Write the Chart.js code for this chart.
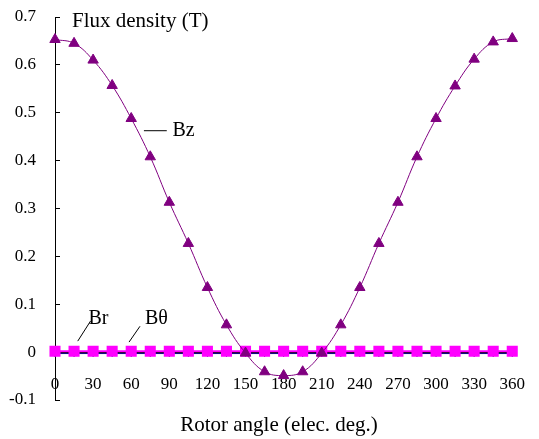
<!DOCTYPE html>
<html lang="en">
  <head>
    <meta charset="UTF-8" />
    <title>Flux density vs rotor angle</title>
    <style>
      body {
        margin: 0;
        background: #fff;
      }
      #wrap {
        width: 539px;
        height: 439px;
      }
    </style>
  </head>
  <body>
    <div id="wrap"><canvas id="myChart"></canvas></div>

    <script src="https://cdn.jsdelivr.net/npm/chart.js@4.4.1/dist/chart.umd.min.js"></script>
    <script>
      // rotor angle, elec. deg.
      const angles = [0, 15, 30, 45, 60, 75, 90, 105, 120, 135, 150, 165, 180,
        195, 210, 225, 240, 255, 270, 285, 300, 315, 330, 345, 360];
      // flux density, T
      const bz = [0.653, 0.645, 0.61, 0.557, 0.488, 0.408, 0.313, 0.227, 0.135, 0.057, -0.002, -0.041, -0.049,
        -0.041, -0.002, 0.057, 0.135, 0.227, 0.313, 0.408, 0.488, 0.556, 0.612, 0.648, 0.655];
      const br = [-0.003, -0.003, -0.003, -0.003, -0.003, -0.003, -0.003, -0.003, -0.003, -0.003, -0.003, -0.003, -0.003,
        -0.003, -0.003, -0.003, -0.003, -0.003, -0.003, -0.003, -0.003, -0.003, -0.003, -0.003, -0.003];
      const btheta = [0.002, 0.002, 0.002, 0.002, 0.002, 0.002, 0.002, 0.002, 0.002, 0.002, 0.002, 0.002, 0.002,
        0.002, 0.002, 0.002, 0.002, 0.002, 0.002, 0.002, 0.002, 0.002, 0.002, 0.002, 0.002];
      const xTicks = [0, 30, 60, 90, 120, 150, 180, 210, 240, 270, 300, 330, 360];
      const yTicks = [-0.1, 0, 0.1, 0.2, 0.3, 0.4, 0.5, 0.6, 0.7];

      const font = "'Liberation Serif', 'Liberation Sans', sans-serif";
      const pts = vals => vals.map((v, i) => ({ x: angles[i], y: v }));

      // axis titles and series names with leader lines
      const textPlugin = {
        id: "texts",
        afterDatasetsDraw(chart) {
          const { ctx, chartArea, scales } = chart;
          const x = scales.x, y = scales.y;
          ctx.save();
          ctx.fillStyle = "#000";
          ctx.strokeStyle = "#000";
          ctx.lineWidth = 1;
          ctx.font = "21px " + font;
          ctx.textBaseline = "middle";
          ctx.textAlign = "left";
          ctx.fillText("Flux density (T)", chartArea.left + 17, chartArea.top + 4);
          ctx.textAlign = "center";
          ctx.fillText("Rotor angle (elec. deg.)", 279, chartArea.bottom + 25);

          const lead = (x1, y1, x2, y2) => {
            ctx.beginPath();
            ctx.moveTo(x.getPixelForValue(x1), y.getPixelForValue(y1));
            ctx.lineTo(x.getPixelForValue(x2), y.getPixelForValue(y2));
            ctx.stroke();
          };
          ctx.font = "20px " + font;
          ctx.textAlign = "left";
          lead(70, 0.4625, 88, 0.4625);
          ctx.fillText("Bz", x.getPixelForValue(92.5), y.getPixelForValue(0.4625));
          lead(17.9, 0.023, 28, 0.065);
          ctx.fillText("Br", x.getPixelForValue(26.4), y.getPixelForValue(0.069));
          lead(58.3, 0.021, 66.9, 0.054);
          ctx.fillText("B\u03b8", x.getPixelForValue(70.8), y.getPixelForValue(0.069));
          ctx.restore();
        },
      };

      const ctx = document.getElementById("myChart").getContext("2d");
      const chart = new Chart(ctx, {
        type: "line",
        data: {
          datasets: [
            {
              label: "Bz",
              data: pts(bz),
              borderColor: "#800080",
              backgroundColor: "#800080",
              borderWidth: 1,
              pointStyle: "triangle",
              pointRadius: 6,
              tension: 0.4,
              clip: false,
              order: 0,
            },
            {
              label: "B\u03b8",
              data: pts(btheta),
              borderColor: "#ff00ff",
              backgroundColor: "#ff00ff",
              borderWidth: 2,
              pointStyle: "rect",
              pointRadius: 6.4,
              clip: false,
              order: 1,
            },
            {
              label: "Br",
              data: pts(br),
              borderColor: "#000080",
              backgroundColor: "#000080",
              borderWidth: 1,
              pointStyle: "rectRot",
              pointRadius: 3,
              clip: false,
              order: 2,
            },
          ],
        },
        options: {
          responsive: true,
          maintainAspectRatio: false,
          animation: false,
          layout: { padding: { top: 17, right: 22, bottom: 39, left: 0 } },
          plugins: {
            legend: { display: false },
            tooltip: { enabled: false },
          },
          scales: {
            x: {
              type: "linear",
              position: { y: 0 },
              min: 0,
              max: 360,
              afterBuildTicks: s => (s.ticks = xTicks.map(v => ({ value: v }))),
              grid: { display: false },
              border: { display: true, color: "#000", width: 1 },
              ticks: {
                padding: 14,
                color: "#000",
                font: { family: font, size: 17 },
                maxRotation: 0,
                autoSkip: false,
              },
            },
            y: {
              type: "linear",
              min: -0.1,
              max: 0.7,
              afterBuildTicks: s => (s.ticks = yTicks.map(v => ({ value: v }))),
              afterFit: s => {
                s.width = 55;
                s.paddingTop = 0;
                s.paddingBottom = 0;
              },
              grid: { drawOnChartArea: false, tickLength: -5, color: "#000" },
              border: { display: true, color: "#000", width: 1 },
              ticks: {
                padding: 24,
                color: "#000",
                font: { family: font, size: 17 },
                callback: v => String(Math.round(v * 10) / 10),
              },
            },
          },
        },
        plugins: [textPlugin],
      });
    </script>
  </body>
</html>
